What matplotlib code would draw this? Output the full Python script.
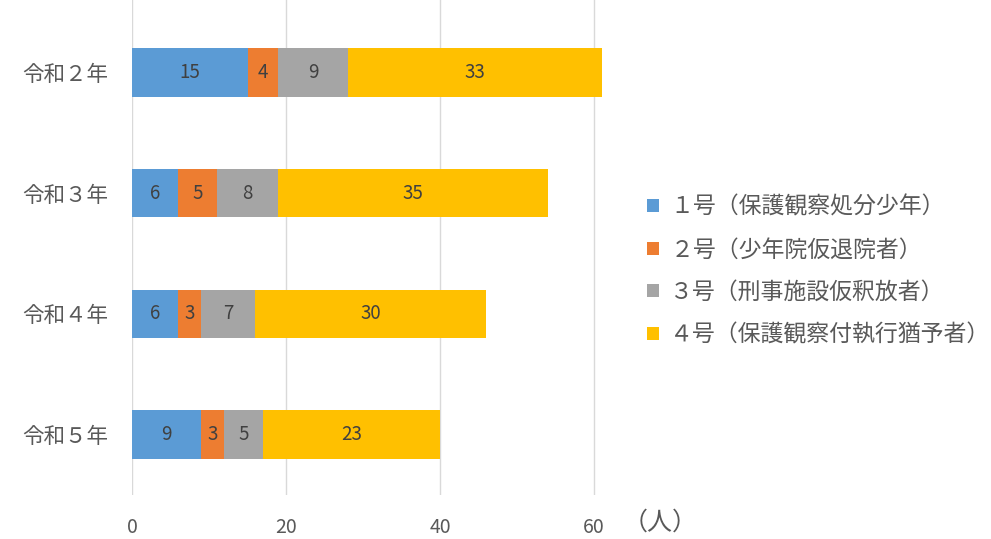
import matplotlib.pyplot as plt
import numpy as np

plt.rcParams['font.family'] = ['Noto Sans CJK JP', 'DejaVu Sans']

# Data
years = ['令和２年', '令和３年', '令和４年', '令和５年']
series_names = ['１号（保護観察処分少年）', '２号（少年院仮退院者）',
                '３号（刑事施設仮釈放者）', '４号（保護観察付執行猶予者）']
no1 = [15, 6, 6, 9]
no2 = [4, 5, 3, 3]
no3 = [9, 8, 7, 5]
no4 = [33, 35, 30, 23]
colors = ['#5B9BD5', '#ED7D31', '#A5A5A5', '#FFC000']

fig = plt.figure(figsize=(9.91, 5.39), dpi=100)
ax = fig.add_axes([132 / 991, 44 / 539, (62 * 7.7) / 991, 495 / 539])

y = np.arange(len(years))
left = np.zeros(len(years))
for vals, name, col in zip([no1, no2, no3, no4], series_names, colors):
    ax.barh(y, vals, left=left, height=0.4, color=col, label=name)
    for yi, l, v in zip(y, left, vals):
        ax.text(l + v / 2, yi, str(v), ha='center', va='center',
                fontsize=13.5, color='#404040')
    left += np.array(vals)

ax.set_xlim(0, 62)
ax.set_ylim(3.5, -0.6)
ax.set_xticks([0, 20, 40, 60])
ax.set_yticks(y)
ax.set_yticklabels(years, fontsize=15.5, color='#595959')
ax.tick_params(axis='x', labelsize=14, colors='#595959', length=0, pad=16)
ax.tick_params(axis='y', length=0, pad=17)
ax.grid(True, axis='x', color='#D9D9D9', linewidth=1)
ax.set_axisbelow(True)
for s in ax.spines.values():
    s.set_visible(False)

fig.text(660 / 991, 1 - 523 / 539, '（人）', fontsize=18, color='#595959',
         ha='center', va='center')

fig.legend(loc='center left', bbox_to_anchor=(636 / 991, 1 - 271 / 539),
           frameon=False, fontsize=16.5, labelcolor='#595959',
           handlelength=0.5, handleheight=0.5, handletextpad=0.5,
           labelspacing=0.85, borderpad=0)

plt.savefig('out.png', dpi=100)
